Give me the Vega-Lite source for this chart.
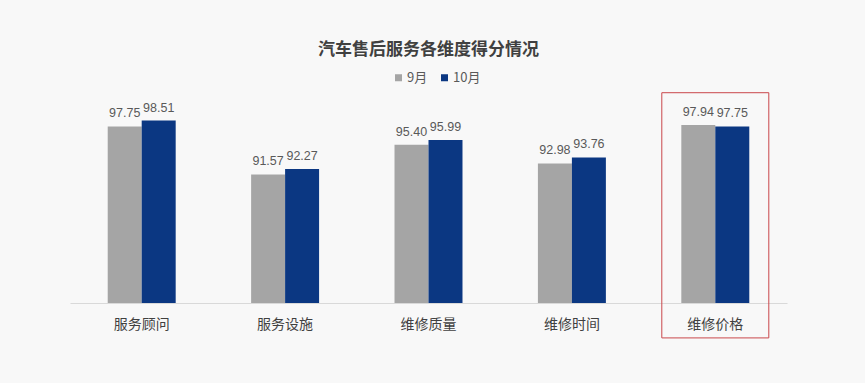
{
  "$schema": "https://vega.github.io/schema/vega-lite/v6.json",
  "autosize": {"type": "none"},
  "width": 717,
  "height": 194,
  "padding": {"left": 70, "top": 109, "right": 78, "bottom": 80},
  "background": "#f8f8f8",
  "config": {
    "view": {"stroke": null},
    "font": "Noto Sans CJK SC"
  },
  "title": {
    "text": "汽车售后服务各维度得分情况",
    "fontSize": 17,
    "fontWeight": "bold",
    "color": "#404040",
    "anchor": "middle",
    "offset": 12
  },
  "datasets": {
    "scores": [
      {"category": "服务顾问", "month": "9月", "value": 97.75},
      {"category": "服务顾问", "month": "10月", "value": 98.51},
      {"category": "服务设施", "month": "9月", "value": 91.57},
      {"category": "服务设施", "month": "10月", "value": 92.27},
      {"category": "维修质量", "month": "9月", "value": 95.40},
      {"category": "维修质量", "month": "10月", "value": 95.99},
      {"category": "维修时间", "month": "9月", "value": 92.98},
      {"category": "维修时间", "month": "10月", "value": 93.76},
      {"category": "维修价格", "month": "9月", "value": 97.94},
      {"category": "维修价格", "month": "10月", "value": 97.75}
    ],
    "highlight": [
      {"category": "维修价格", "top": 102.1, "bottom": 70.5}
    ]
  },
  "layer": [
    {
      "data": {"name": "scores"},
      "mark": {"type": "bar"},
      "encoding": {
        "x": {
          "field": "category", "type": "nominal", "sort": null,
          "scale": {"paddingInner": 0.526, "paddingOuter": 0.263},
          "axis": {
            "title": null, "labelAngle": 0, "ticks": false,
            "domainColor": "#d9d9d9", "domainWidth": 1,
            "labelFontSize": 14, "labelColor": "#404040", "labelPadding": 14
          }
        },
        "xOffset": {"field": "month", "type": "nominal", "sort": ["9月", "10月"]},
        "y": {
          "field": "value", "type": "quantitative",
          "scale": {"domain": [75, 100], "zero": false, "nice": false},
          "axis": null
        },
        "y2": {"datum": 75},
        "color": {
          "field": "month", "type": "nominal",
          "scale": {"domain": ["9月", "10月"], "range": ["#a5a5a5", "#0b3782"]},
          "legend": {
            "title": null, "orient": "none", "legendX": 322, "legendY": -38,
            "direction": "horizontal",
            "symbolType": "square", "symbolSize": 49, "labelFontSize": 13,
            "labelColor": "#595959", "columnPadding": 10, "labelOffset": 2
          }
        }
      }
    },
    {
      "data": {"name": "scores"},
      "mark": {"type": "text", "dy": -13, "fontSize": 12.5, "color": "#595959", "font": "Liberation Sans"},
      "encoding": {
        "x": {"field": "category", "type": "nominal", "sort": null},
        "xOffset": {"field": "month", "type": "nominal", "sort": ["9月", "10月"]},
        "y": {"field": "value", "type": "quantitative"},
        "text": {"field": "value", "type": "quantitative", "format": ".2f"}
      }
    },
    {
      "data": {"name": "highlight"},
      "mark": {"type": "bar", "width": 107, "fill": null, "fillOpacity": 0, "stroke": "#c9474b", "strokeWidth": 1, "clip": false},
      "encoding": {
        "x": {"field": "category", "type": "nominal", "sort": null},
        "y": {"field": "top", "type": "quantitative"},
        "y2": {"field": "bottom"}
      }
    }
  ]
}
